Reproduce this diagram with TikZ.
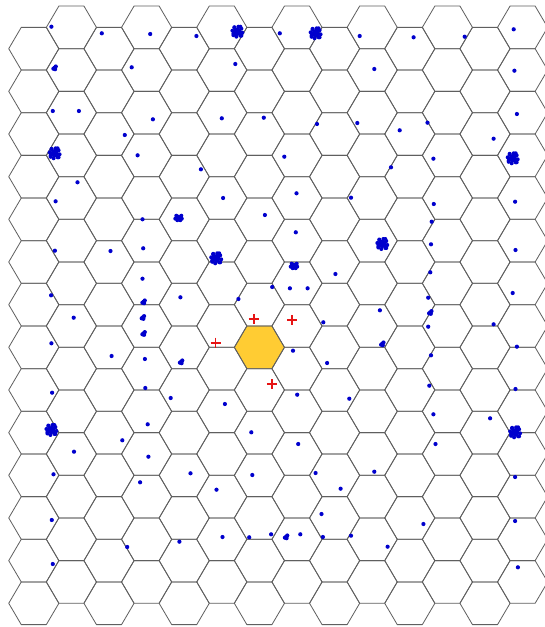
\documentclass[tikz,border=0pt]{standalone}
\usepackage{tikz}
\definecolor{hexgray}{RGB}{95,95,95}
\definecolor{cellyellow}{RGB}{255,204,51}
\definecolor{dotblue}{RGB}{0,0,205}
\definecolor{plusred}{RGB}{230,20,20}
\tikzset{
  hexline/.style={draw=hexgray,line width=0.8pt,line join=round},
  servecell/.style={fill=cellyellow},
  dotstyle/.style={fill=dotblue},
  plusmark/.style={draw=plusred,line width=1.8pt},
}
\begin{document}
\begin{tikzpicture}[x=1pt,y=-1pt]
\useasboundingbox (0,0) rectangle (545,627);
\fill[white] (0,0) rectangle (545,627);
\begin{scope}
\clip (0,0) rectangle (545,627);
% serving cell
\fill[servecell,shift={(259.4,347.3)}] (-25.07,0) -- (-12.535,-21.33) -- (12.535,-21.33) -- (25.07,0) -- (12.535,21.33) -- (-12.535,21.33) -- cycle;
% hex grid
\foreach \k in {0,...,13}{
  \foreach \j in {0,...,13}{
    \pgfmathsetmacro\cx{33.8+37.6*\k}
    \pgfmathsetmacro\cy{48.7-21.33*mod(\k,2)+42.66*\j}
    \draw[hexline,shift={(\cx,\cy)}] (-25.07,0) -- (-12.535,-21.33) -- (12.535,-21.33) -- (25.07,0) -- (12.535,21.33) -- (-12.535,21.33) -- cycle;
  }
}
% single users
\foreach \x/\y in {51.4/26.7, 101.8/33.3, 150.2/34, 196.4/36, 279.8/33.3, 359.7/36, 413.6/37.3, 464.7/36.7, 513.7/29.3,
  131.7/67.3, 235.3/64, 374.3/69, 514.4/70.7,
  52.8/111, 78.9/111, 152.9/119.3, 221.8/118.3, 263.8/117.7, 317/124, 357.3/123, 399.7/130.3, 427.5/122.7, 516.9/114,
  124.8/135, 493.6/138.7, 137.6/155.3, 284.3/156.7, 433.4/158.7, 200.9/169.3, 391/167.3,
  77.5/182.3, 296.5/193.3, 223.1/198, 351/197.7, 55.6/201.3, 433.8/204, 515.1/201.7,
  142.5/219.3, 264.9/215, 431.7/221.7, 295.8/232.3, 54.9/250.7, 110.5/251, 143.2/248.3, 431/244.3, 515.5/250,
  335.4/274, 142.5/278.7, 430.3/272.3, 51.1/295.3, 180.4/297.3, 272.2/287, 289.9/288.3, 307.6/288.3, 238.4/299,
  428.2/297.7, 512.7/293, 73.7/317.7, 379.9/310.3, 323.3/322.3, 428.2/326.7, 493.6/324.3, 51.4/343.3, 516.9/346.7,
  293/350.7, 111.6/356, 144.9/359, 327.1/363, 431/355.3, 52.1/392.7, 145.3/388, 429.3/385.7, 515.5/389,
  170.7/398, 297.2/394.7, 349.3/398.7, 224.9/404, 433.4/414.3, 490.1/418.3,
  147.7/424.3, 251.3/432.3, 122.3/440.3, 74/451.7, 148.4/456.7, 298.2/444, 435.5/444, 53.5/474.3, 190.5/473.3,
  252.3/475, 315.6/473, 374.3/471.7, 515.1/477, 140.1/482.3, 216.5/489.7, 340.6/488.7, 321.5/514, 423.4/524,
  51.8/520, 515.1/521, 222.5/537, 249.2/537.3, 271.1/534.3, 300.3/534.3, 322.9/537, 351/535.7, 179.4/541.7,
  127.2/547, 387.6/546.7, 52.8/564, 517.9/567.3}
  \fill[dotstyle] (\x,\y) circle[radius=2.1pt];
% small groups
\foreach \x/\y in {54.6/67.7, 143.6/301.7, 142.9/317.3, 430.3/312.3, 143.6/333.3, 382.3/343.7, 181.1/361.7, 286.1/536.7}
  \foreach \dx/\dy in {0/0, 1.2/-1.2, -1.2/1, 0.5/1.5}
    \fill[dotstyle] ({\x+\dx},{\y+\dy}) circle[radius=2.1pt];
% medium groups
\foreach \x/\y in {178.3/217.7, 293.7/265.7}{
  \fill[dotstyle] (\x,\y) circle[radius=3pt];
  \foreach \dx/\dy in {3/-2, -3/1, 2/2.5, -2/-2, 3.5/1, -1/2.5}
    \fill[dotstyle] ({\x+\dx},{\y+\dy}) circle[radius=2pt];
}
% large groups
\foreach \x/\y in {237.4/31.7, 315.6/33.3, 54.6/153.3, 512.7/158.3, 216.2/258.3, 382.3/244, 51.4/430, 515.1/432.3}{
  \fill[dotstyle] (\x,\y) circle[radius=4.2pt];
  \foreach \dx/\dy in {4/-3, -4/2, 3/4, -3/-4, 5/1, -5/-1, 1/-5, -1/5, 4/4, -4/3.5, 3/-5, -3/-4.5}
    \fill[dotstyle] ({\x+\dx},{\y+\dy}) circle[radius=2pt];
}
% interferer marks
\foreach \x/\y in {253.7/319, 292/320.3, 215.5/342.7, 271.8/384.3}
  \draw[plusmark] ({\x-5},\y) -- ({\x+5},\y) (\x,{\y-5}) -- (\x,{\y+5});
\end{scope}
\end{tikzpicture}
\end{document}
